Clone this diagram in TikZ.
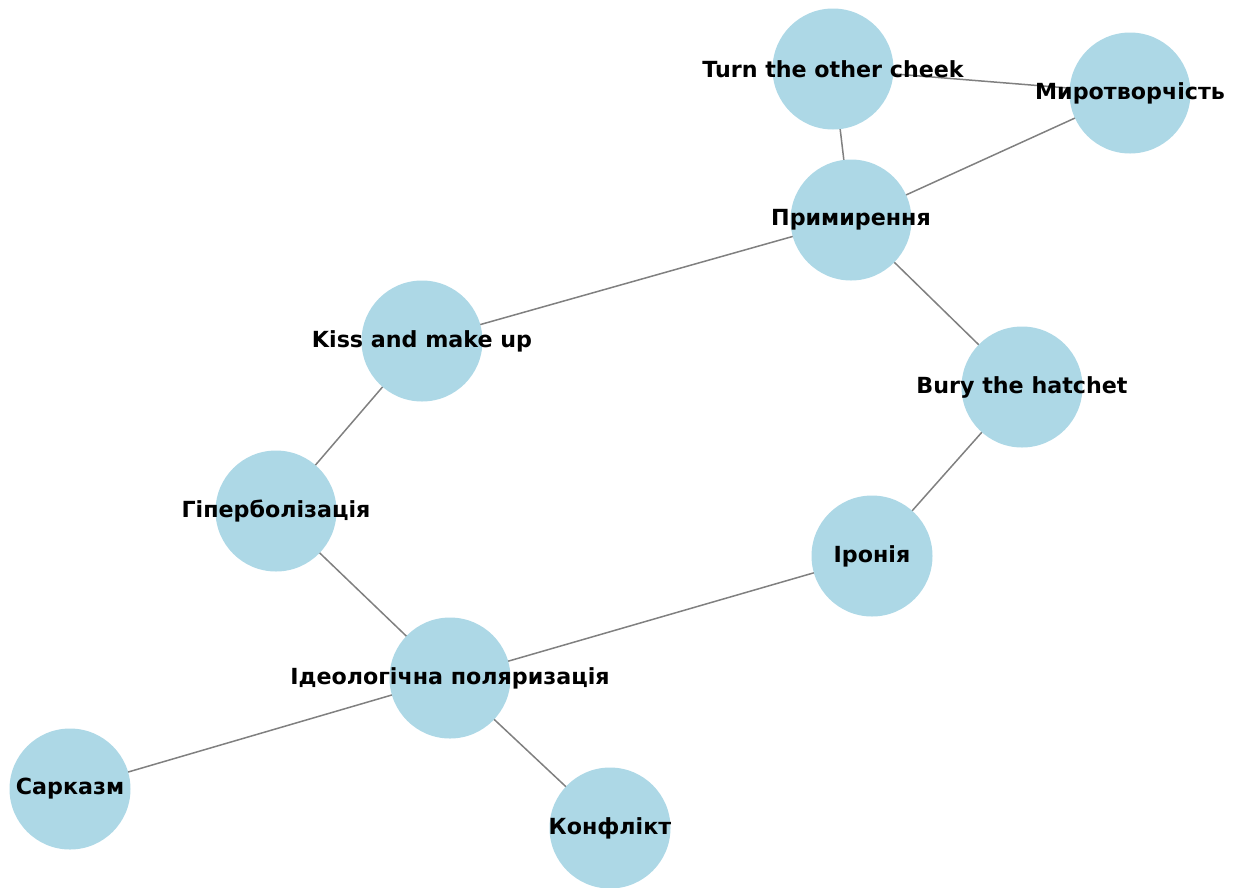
\documentclass[tikz,border=0pt]{standalone}
\usepackage{fontspec}
\setmainfont{DejaVu Sans}
\usetikzlibrary{backgrounds}
\definecolor{nodeblue}{HTML}{ADD8E6}
\definecolor{edgegray}{HTML}{808080}
\tikzset{
  vert/.style={circle, fill=nodeblue, draw=none, minimum size=121pt, inner sep=0pt},
  lbl/.style={font=\fontsize{22.2}{26}\selectfont\bfseries, text=black, inner sep=0pt},
  edge/.style={draw=edgegray, line width=1.5pt}
}
\begin{document}
\begin{tikzpicture}[x=1pt,y=-1pt]
\useasboundingbox (0,0) rectangle (1234,887);
\node[vert] (turn) at (833,69) {};
\node[vert] (miro) at (1130,93) {};
\node[vert] (prym) at (851,220) {};
\node[vert] (kiss) at (422,341) {};
\node[vert] (bury) at (1022,387) {};
\node[vert] (hyper) at (276,511) {};
\node[vert] (iron) at (872,556) {};
\node[vert] (ideo) at (450,678) {};
\node[vert] (sark) at (70,789) {};
\node[vert] (konf) at (610,828) {};
\begin{scope}[on background layer]
\draw[edge] (turn.center) -- (miro.center);
\draw[edge] (turn.center) -- (prym.center);
\draw[edge] (miro.center) -- (prym.center);
\draw[edge] (prym.center) -- (kiss.center);
\draw[edge] (prym.center) -- (bury.center);
\draw[edge] (kiss.center) -- (hyper.center);
\draw[edge] (bury.center) -- (iron.center);
\draw[edge] (hyper.center) -- (ideo.center);
\draw[edge] (iron.center) -- (ideo.center);
\draw[edge] (ideo.center) -- (sark.center);
\draw[edge] (ideo.center) -- (konf.center);
\end{scope}
\node[lbl] (tturn) at (turn.center) {Turn the other cheek};
\node[lbl] (tmiro) at (miro.center) {Миротворчість};
\node[lbl] (tprym) at (prym.center) {Примирення};
\node[lbl] (tkiss) at (kiss.center) {Kiss and make up};
\node[lbl] (tbury) at (bury.center) {Bury the hatchet};
\node[lbl] (thyper) at (hyper.center) {Гіперболізація};
\node[lbl] (tiron) at (iron.center) {Іронія};
\node[lbl] (tideo) at (ideo.center) {Ідеологічна поляризація};
\node[lbl] (tsark) at (sark.center) {Сарказм};
\node[lbl] (tkonf) at (konf.center) {Конфлікт};
\end{tikzpicture}
\end{document}
